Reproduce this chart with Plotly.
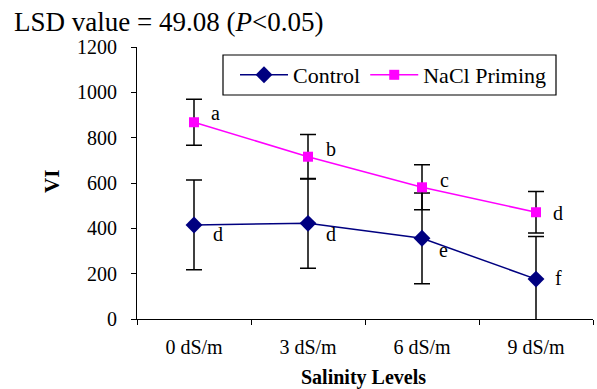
import plotly.graph_objects as go

categories = ["0 dS/m", "3 dS/m", "6 dS/m", "9 dS/m"]
control = [415, 422, 356, 176]
control_err = [198, 198, 200, 188]
nacl = [868, 716, 581, 471]
nacl_err = [101, 98, 99, 92]
control_letters = ["d", "d", "e", "f"]
nacl_letters = ["a", "b", "c", "d"]

FONT = "Liberation Serif"

fig = go.Figure()
fig.add_trace(go.Scatter(
    x=categories, y=control, name="Control", mode="lines+markers",
    line=dict(color="#000080", width=1.5),
    marker=dict(symbol="diamond", size=13, color="#000080"),
    error_y=dict(type="data", array=control_err, color="black", thickness=1.5, width=8),
    cliponaxis=False,
))
fig.add_trace(go.Scatter(
    x=categories, y=nacl, name="NaCl Priming", mode="lines+markers",
    line=dict(color="#FF00FF", width=1.5),
    marker=dict(symbol="square", size=10, color="#FF00FF"),
    error_y=dict(type="data", array=nacl_err, color="black", thickness=1.5, width=8),
    cliponaxis=False,
))

nacl_shift = [(21, 9), (23, 8), (22, 7), (22, -1)]
ctrl_shift = [(24, -9), (23, -11), (21, -12), (22, 1)]
for i, c in enumerate(categories):
    fig.add_annotation(x=c, y=nacl[i], text=nacl_letters[i], showarrow=False,
                       xshift=nacl_shift[i][0], yshift=nacl_shift[i][1],
                       font=dict(family=FONT, size=20, color="black"))
    fig.add_annotation(x=c, y=control[i], text=control_letters[i], showarrow=False,
                       xshift=ctrl_shift[i][0], yshift=ctrl_shift[i][1],
                       font=dict(family=FONT, size=20, color="black"))

# axis titles
fig.add_annotation(xref="paper", yref="paper", x=(52 - 137) / 456, y=(319 - 182) / 272,
                   text="<b>VI</b>", textangle=-90, showarrow=False,
                   xanchor="center", yanchor="middle",
                   font=dict(family=FONT, size=21, color="black"))
fig.add_annotation(xref="paper", yref="paper", x=(363 - 137) / 456, y=(319 - 377) / 272,
                   text="<b>Salinity Levels</b>", showarrow=False,
                   xanchor="center", yanchor="middle",
                   font=dict(family=FONT, size=20, color="black"))

# legend frame
fig.add_shape(type="rect", xref="paper", yref="paper",
              x0=(223 - 137) / 456, x1=(556 - 137) / 456,
              y0=(319 - 95) / 272, y1=(319 - 55) / 272,
              line=dict(color="black", width=1.2), fillcolor="white", layer="above")

fig.update_layout(
    width=597, height=389,
    margin=dict(l=137, r=4, t=47, b=70, autoexpand=False),
    paper_bgcolor="white", plot_bgcolor="white",
    font=dict(family=FONT, size=20, color="black"),
    title=dict(text="LSD value = 49.08 (<i>P</i>&lt;0.05)", x=14 / 597, xanchor="left",
               y=1 - 22 / 389, yanchor="middle", xref="container", yref="container",
               automargin=False,
               font=dict(family=FONT, size=27, color="black")),
    showlegend=True,
    legend=dict(orientation="h", x=(235 - 137) / 456, y=(319 - 75) / 272,
                xanchor="left", yanchor="middle",
                borderwidth=0, bgcolor="rgba(0,0,0,0)",
                itemwidth=48,
                font=dict(family=FONT, size=22, color="black")),
    xaxis=dict(type="category", range=[-0.5, 3.5], tickson="boundaries",
               ticks="outside", ticklen=5, tickcolor="black", showline=True,
               linecolor="black", linewidth=1, showgrid=False, zeroline=False,
               automargin=False,
               ticklabelstandoff=10, tickfont=dict(family=FONT, size=20)),
    yaxis=dict(range=[0, 1200], dtick=200, ticks="outside", ticklen=5,
               tickcolor="black", showline=True, linecolor="black", linewidth=1,
               showgrid=False, zeroline=False, ticklabelstandoff=10,
               automargin=False,
               tickfont=dict(family=FONT, size=20)),
)

fig.write_html("out.html", post_script="document.body.style.margin='0px';",
               config={"displayModeBar": False})
